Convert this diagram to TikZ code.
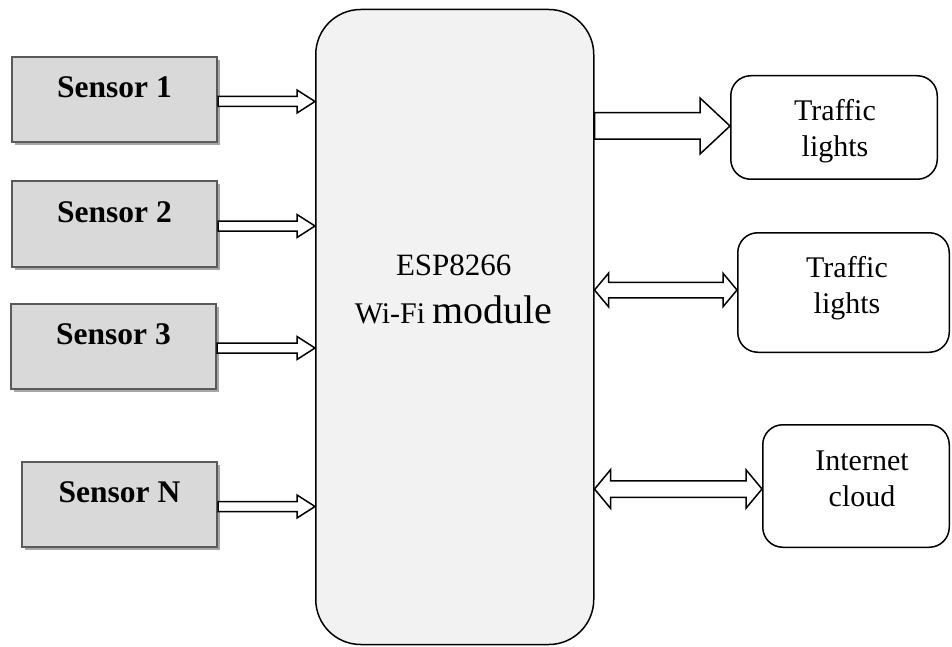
\documentclass[tikz,border=0pt]{standalone}
\usepackage{fontspec}
\setmainfont{Liberation Serif}
\usetikzlibrary{calc,shadows}
\definecolor{sensorfill}{HTML}{D9D9D9}
\definecolor{sensordraw}{HTML}{5A5A5A}
\definecolor{sensorshadow}{HTML}{A6A6A6}
\definecolor{espfill}{HTML}{F2F2F2}
\tikzset{
  sensorbox/.style={draw=sensordraw, line width=2pt, fill=sensorfill, minimum height=85pt, inner sep=0pt,
    drop shadow={shadow xshift=3pt, shadow yshift=-3pt, fill=sensorshadow, opacity=1}},
  sensortext/.style={font=\bfseries\fontsize{31.5}{36}\selectfont, inner sep=0pt},
  espbox/.style={draw=black, line width=1.5pt, fill=espfill, rounded corners=45pt, inner sep=0pt},
  esptext/.style={inner sep=0pt, anchor=base},
  outbox/.style={draw=black, line width=1.5pt, fill=white, rounded corners=20pt, inner sep=0pt},
  outtext/.style={font=\fontsize{30}{36}\selectfont, align=center, inner sep=0pt},
  blockarr/.style={draw=black, fill=white, line width=1.5pt, line join=miter}
}
% #1 start point, #2 end point (x used), #3 body half, #4 head half, #5 head length
\newcommand\rightblock[5]{%
  \draw[blockarr] let \p1=(#1), \p2=(#2) in
    (\x1,\y1+#3) -- (\x2-#5,\y1+#3) -- (\x2-#5,\y1+#4) -- (\x2,\y1)
    -- (\x2-#5,\y1-#4) -- (\x2-#5,\y1-#3) -- (\x1,\y1-#3) -- cycle;}
\newcommand\doubleblock[5]{%
  \draw[blockarr] let \p1=(#1), \p2=(#2) in
    (\x1,\y1) -- (\x1+#5,\y1+#4) -- (\x1+#5,\y1+#3) -- (\x2-#5,\y1+#3)
    -- (\x2-#5,\y1+#4) -- (\x2,\y1) -- (\x2-#5,\y1-#4) -- (\x2-#5,\y1-#3)
    -- (\x1+#5,\y1-#3) -- (\x1+#5,\y1-#4) -- cycle;}
\begin{document}
\begin{tikzpicture}[x=1pt, y=-1pt]
\useasboundingbox (0,0) rectangle (952,647);

% sensors
\node[sensorbox, minimum width=205pt] (s1) at (114.5,99.5) {};
\node[sensorbox, minimum width=205pt, minimum height=86pt] (s2) at (114.5,224) {};
\node[sensorbox, minimum width=205pt] (s3) at (113.5,346) {};
\node[sensorbox, minimum width=195pt] (sn) at (119.5,504.5) {};
\node[sensortext] (s1t) at ($(s1.center)+(0,-12)$) {Sensor 1};
\node[sensortext] (s2t) at ($(s2.center)+(0,-12)$) {Sensor 2};
\node[sensortext] (s3t) at ($(s3.center)+(0,-12)$) {Sensor 3};
\node[sensortext] (snt) at ($(sn.center)+(0,-12)$) {Sensor N};

% ESP module
\node[espbox, minimum width=278pt, minimum height=635pt] (esp) at (454.75,327) {};
\node[esptext] (esp1) at ($(esp.center)+(-1,-52)$) {\fontsize{31}{36}\selectfont ESP8266};
\node[esptext] (esp2) at ($(esp.center)+(-1,-4)$) {{\fontsize{30}{36}\selectfont Wi-Fi }{\fontsize{40}{48}\selectfont module}};

% outputs
\node[outbox, minimum width=206.5pt, minimum height=103.5pt] (t1) at (834,127.5) {};
\node[outbox, minimum width=211.5pt, minimum height=119.5pt] (t2) at (843.5,292.5) {};
\node[outbox, minimum width=186.5pt, minimum height=122.5pt] (ic) at (856,486) {};
\node[outtext] (t1t) at ($(t1.center)+(1,3.5)$) {Traffic\\lights};
\node[outtext] (t2t) at ($(t2.center)+(3.5,-4)$) {Traffic\\lights};
\node[outtext] (ict) at ($(ic.center)+(6,-7.5)$) {Internet\\cloud};

% connectors
\rightblock{$(s1.east)+(0,2)$}{esp.west}{5pt}{11.5pt}{18pt}
\rightblock{$(s2.east)+(0,2)$}{esp.west}{5pt}{11.5pt}{18pt}
\rightblock{$(s3.east)+(0,2)$}{esp.west}{5pt}{11.5pt}{18pt}
\rightblock{$(sn.east)+(0,2)$}{esp.west}{5pt}{11.5pt}{18pt}
\rightblock{$(esp.east |- t1.west)+(0,-1.5)$}{t1.west}{13.25pt}{28pt}{30pt}
\doubleblock{$(esp.east |- t2.west)+(0,-2.5)$}{t2.west}{7.75pt}{16.75pt}{14pt}
\doubleblock{$(esp.east |- ic.west)+(0,3)$}{ic.west}{8.25pt}{19.25pt}{16pt}
\end{tikzpicture}
\end{document}
